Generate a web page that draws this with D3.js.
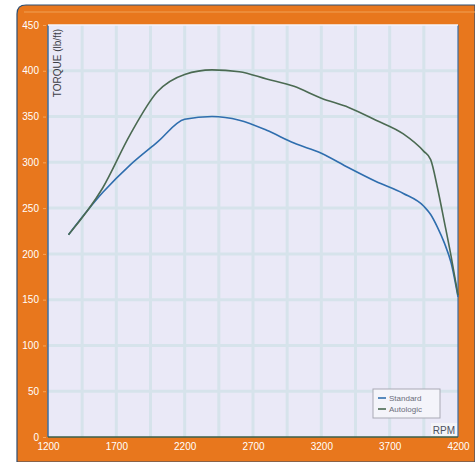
<!DOCTYPE html>
<html><head><meta charset="utf-8">
<script src="https://cdn.jsdelivr.net/npm/d3@7"></script>
<style>html,body{margin:0;padding:0;background:#fff;}svg{display:block;}</style>
</head><body>
<script>
const rpm = [1350,1600,1800,2000,2200,2400,2600,2800,3000,3200,3400,3600,3800,3950,4000,4050,4100,4150,4200];
const standard = [221,267,297,322,347,350,346,335,321,310,294,279,266,252,243,229,212,190,153];
const autologic = [221,272,330,377,396,401,399,391,383,370,360,346,331,312,303,272,235,197,155];
const yTicks = [0,50,100,150,200,250,300,350,400,450];
const xTicks = [1200,1700,2200,2700,3200,3700,4200];
const xGrid = d3.range(1200, 4201, 250);
const seriesNames = ["Standard","Autologic"];
const seriesColors = ["#2f6eae","#4b6a52"];

const W = 475, H = 462;
const svg = d3.select("body").append("svg").attr("width", W).attr("height", H);

// outer orange frame
svg.append("path")
  .attr("d", "M17,462 L17,14 Q17,5 26,5 L475,5 L475,462 Z")
  .attr("fill", "#e8771d").attr("stroke", "#2d4f73").attr("stroke-width", 1.2);
svg.append("line").attr("x1",24).attr("x2",475).attr("y1",12).attr("y2",12)
  .attr("stroke","#f09a4c").attr("stroke-width",2).attr("opacity",0.6);

const L = 48, R = 458, T = 25, B = 437;
const x = d3.scaleLinear().domain([1200, 4200]).range([L, R]);
const y = d3.scaleLinear().domain([0, 450]).range([B, T]);

// plot background
svg.append("rect").attr("x", L).attr("y", T).attr("width", R - L).attr("height", B - T)
  .attr("fill", "#eae9f7");

// grid
const g = svg.append("g");
g.selectAll("line.v").data(xGrid.slice(1, -1)).join("line")
  .attr("x1", d => x(d)).attr("x2", d => x(d)).attr("y1", T).attr("y2", B)
  .attr("stroke", "#d6e3eb").attr("stroke-width", 3);
g.selectAll("line.h").data(yTicks.slice(1, -1)).join("line")
  .attr("y1", d => y(d)).attr("y2", d => y(d)).attr("x1", L).attr("x2", R)
  .attr("stroke", "#d6e3eb").attr("stroke-width", 3);

// plot border
svg.append("line").attr("x1", L).attr("x2", L).attr("y1", T).attr("y2", B).attr("stroke", "#3a6ea5").attr("stroke-width", 1.5);
svg.append("line").attr("x1", R).attr("x2", R).attr("y1", T).attr("y2", B).attr("stroke", "#3a6ea5").attr("stroke-width", 1.2);
svg.append("line").attr("x1", L).attr("x2", R).attr("y1", T).attr("y2", T).attr("stroke", "#f4f4fb").attr("stroke-width", 1.5);
svg.append("line").attr("x1", L).attr("x2", R).attr("y1", B).attr("y2", B).attr("stroke", "#3b5f4a").attr("stroke-width", 1.5);

// axes
const yAxis = d3.axisLeft(y).tickValues(yTicks).tickSize(3).tickPadding(4);
const ya = svg.append("g").attr("transform", `translate(${L - 2},0)`).call(yAxis);
ya.select(".domain").remove();
ya.selectAll("line").attr("stroke", "#f6a65c");
ya.selectAll("text").attr("fill", "#fff").style("font-family", "Liberation Sans, Arial, sans-serif").style("font-size", "10px");

const xAxis = d3.axisBottom(x).tickValues(xTicks).tickFormat(d3.format("d")).tickSize(0).tickPadding(6);
const xa = svg.append("g").attr("transform", `translate(0,${B})`).call(xAxis);
xa.select(".domain").remove();
xa.selectAll("text").attr("fill", "#fff").style("font-family", "Liberation Sans, Arial, sans-serif").style("font-size", "10px");

// lines
const line = d3.line().x((d, i) => x(rpm[i])).y(d => y(d)).curve(d3.curveMonotoneX);
[standard, autologic].forEach((s, i) => {
  svg.append("path").attr("d", line(s)).attr("fill", "none")
    .attr("stroke", seriesColors[i]).attr("stroke-width", 1.6);
});

// y title
svg.append("text").attr("transform", `translate(61,${T + 4}) rotate(-90)`)
  .attr("text-anchor", "end").attr("fill", "#3d3d46")
  .style("font-family", "Liberation Sans, Arial, sans-serif").style("font-size", "10px")
  .text("TORQUE (lb/ft)");

// x title
svg.append("rect").attr("x", 431).attr("y", 423).attr("width", 26).attr("height", 13).attr("fill", "#f4f4f8");
svg.append("text").attr("x", 455).attr("y", 434).attr("text-anchor", "end").attr("fill", "#4d5060")
  .style("font-family", "Liberation Sans, Arial, sans-serif").style("font-size", "10px").text("RPM");

// legend
const lg = svg.append("g").attr("transform", "translate(373,389)");
lg.append("rect").attr("width", 67).attr("height", 29).attr("fill", "#f4f4fa").attr("stroke", "#a9aab5").attr("stroke-width", 1);
seriesNames.forEach((n, i) => {
  lg.append("line").attr("x1", 5).attr("x2", 13).attr("y1", 9 + i * 11).attr("y2", 9 + i * 11)
    .attr("stroke", seriesColors[i]).attr("stroke-width", 1.6);
  lg.append("text").attr("x", 16).attr("y", 12 + i * 11).attr("fill", "#6b6d7a")
    .style("font-family", "Liberation Sans, Arial, sans-serif").style("font-size", "8px").text(n);
});
</script>
</body></html>
